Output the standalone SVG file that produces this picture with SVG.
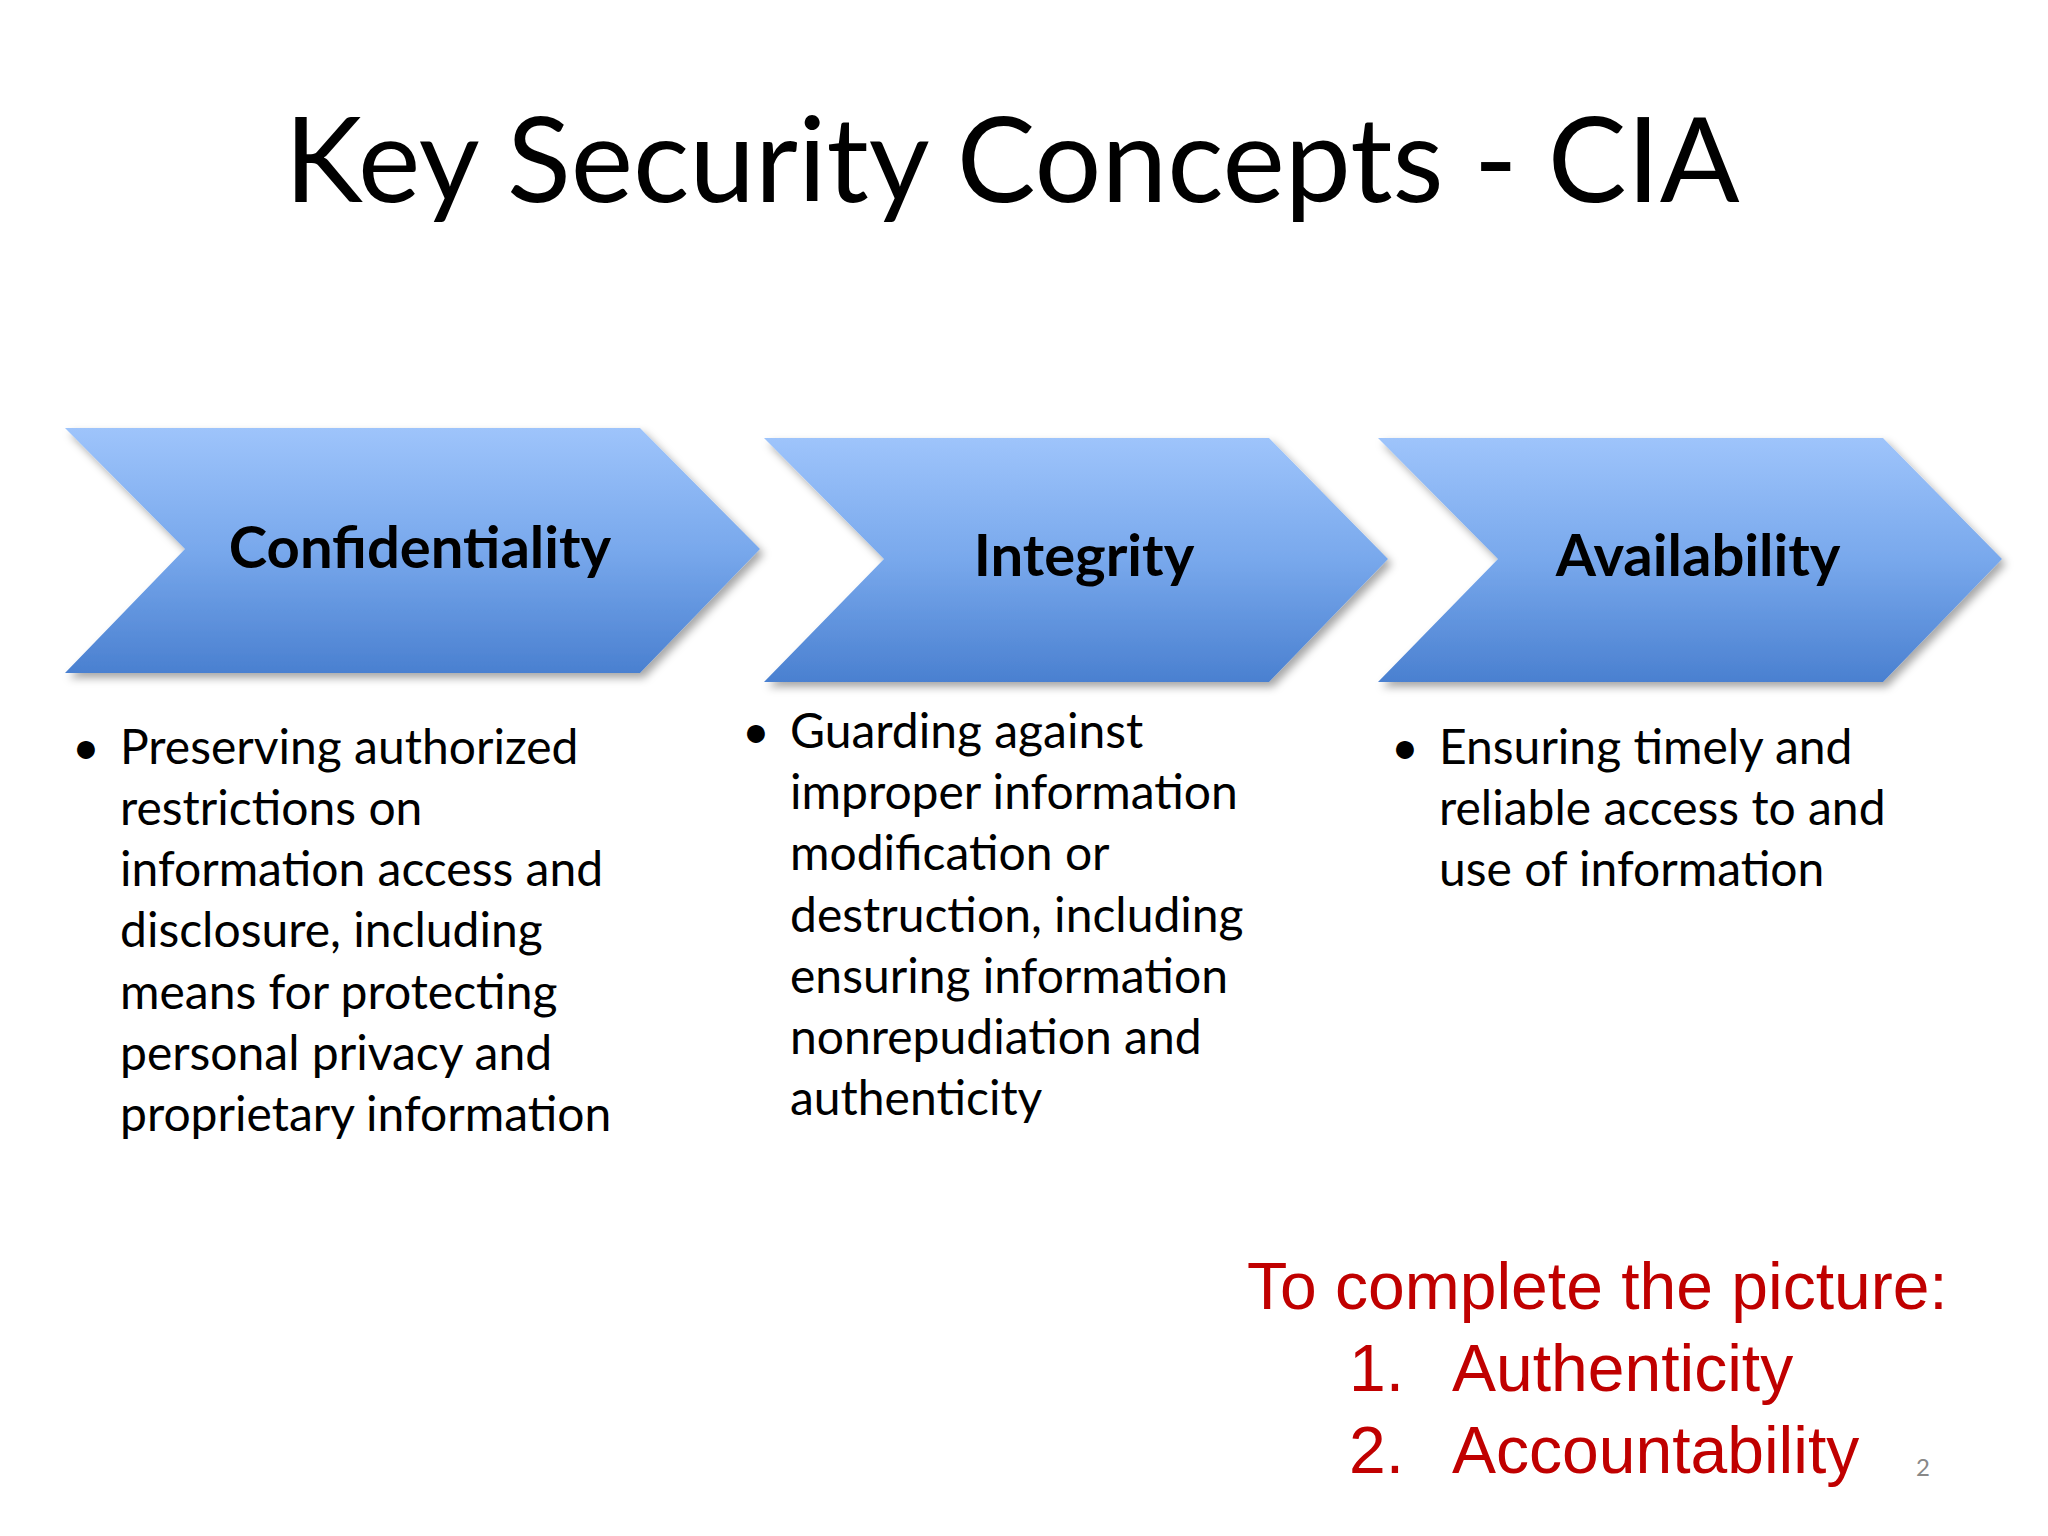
<svg xmlns="http://www.w3.org/2000/svg" width="2048" height="1536" viewBox="0 0 2048 1536">
<defs>
<linearGradient id="g" x1="0" y1="0" x2="0" y2="1">
<stop offset="0" stop-color="#9ec4fb"/><stop offset="0.5" stop-color="#78a8ec"/><stop offset="1" stop-color="#4a80d0"/>
</linearGradient>
<filter id="sh" x="-5%" y="-5%" width="115%" height="120%"><feDropShadow dx="4" dy="5" stdDeviation="4" flood-color="#000" flood-opacity="0.35"/></filter>
<style>
.t{font-family:Lato,"Open Sans",sans-serif;fill:#000}
.h{font-family:Lato,"Open Sans",sans-serif;font-weight:bold;font-size:58px;text-anchor:middle;fill:#000}
.b{font-family:Lato,"Open Sans",sans-serif;font-size:48px;fill:#000}
.r{font-family:"Liberation Sans",Arial,sans-serif;font-size:66px;fill:#c00000}
.c{fill:url(#g);filter:url(#sh)}
</style>
</defs>
<rect width="2048" height="1536" fill="#fff"/>
<text class="t" x="1012" y="202" font-size="118" text-anchor="middle">Key Security Concepts - CIA</text>
<g id="confidentiality">
<polygon class="c" points="65,428 640,428 760,549 640,673 65,673 185,549"/>
<text class="h" x="420" y="568">Confidentiality</text>
</g>
<g id="integrity">
<polygon class="c" points="764,438 1269,438 1388,559 1269,682 764,682 884,559"/>
<text class="h" x="1084" y="576">Integrity</text>
</g>
<g id="availability">
<polygon class="c" points="1378,438 1883,438 2002,559 1883,682 1378,682 1498,559"/>
<text class="h" x="1698" y="576">Availability</text>
</g>
<g id="conf-text" class="b">
<text x="72" y="764">•</text>
<text x="120" y="764">Preserving authorized</text>
<text x="120" y="825">restrictions on</text>
<text x="120" y="886">information access and</text>
<text x="120" y="947">disclosure, including</text>
<text x="120" y="1009">means for protecting</text>
<text x="120" y="1070">personal privacy and</text>
<text x="120" y="1131">proprietary information</text>
</g>
<g id="int-text" class="b">
<text x="742" y="748">•</text>
<text x="790" y="748">Guarding against</text>
<text x="790" y="809">improper information</text>
<text x="790" y="870">modification or</text>
<text x="790" y="932">destruction, including</text>
<text x="790" y="993">ensuring information</text>
<text x="790" y="1054">nonrepudiation and</text>
<text x="790" y="1115">authenticity</text>
</g>
<g id="avail-text" class="b">
<text x="1391" y="764">•</text>
<text x="1439" y="764">Ensuring timely and</text>
<text x="1439" y="825">reliable access to and</text>
<text x="1439" y="886">use of information</text>
</g>
<g id="note" class="r">
<text x="1247" y="1309">To complete the picture:</text>
<text x="1349" y="1391">1.</text><text x="1452" y="1391">Authenticity</text>
<text x="1349" y="1473">2.</text><text x="1452" y="1473">Accountability</text>
</g>
<text x="1916" y="1476" font-family="Lato,sans-serif" font-size="24" fill="#888">2</text>
<g id="connectors"/>
</svg>
